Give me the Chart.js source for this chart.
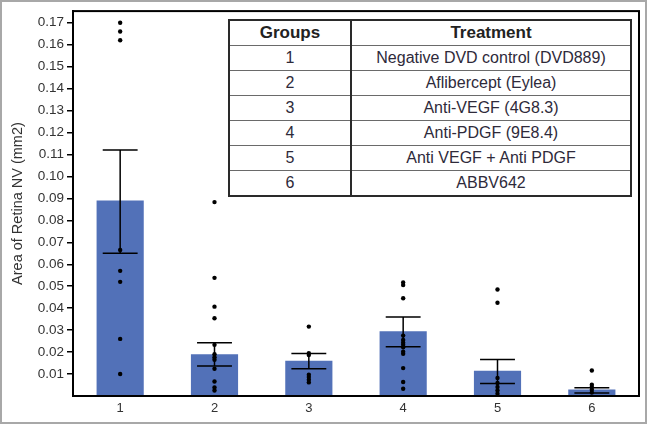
<!DOCTYPE html>
<html lang="en">
<head>
    <meta charset="UTF-8">
    <title>Area of Retina NV</title>
    <script src="https://cdn.jsdelivr.net/npm/chart.js"></script>
    <style>
        body { margin: 0; background: #fff; font-family: Arial, "Liberation Sans", sans-serif; }
        .wrap { position: relative; width: 649px; height: 426px; }
        .frame {
            position: absolute; left: 0; top: 0;
            width: 647px; height: 424px;
            box-sizing: border-box;
            border: 2px solid #a8a8a8;
            pointer-events: none;
        }
        .legend {
            position: absolute; left: 228px; top: 19px;
            width: 404px; height: 176px;
            border-collapse: collapse;
            border: 2px solid #2a2a2a;
            background: #fff;
            table-layout: fixed;
        }
        .legend td, .legend th {
            border: 1px solid #6a6a6a;
            text-align: center;
            padding: 0;
            height: 24px;
            font-size: 16px;
            color: #2e2a3a;
        }
        .legend th { font-weight: bold; font-size: 17px; color: #222; }
        .legend td:first-child, .legend th:first-child { border-right: 2px solid #2a2a2a; }
    </style>
</head>
<body>
    <div class="wrap">
        <canvas id="nvChart" width="649" height="426"></canvas>
        <table class="legend" id="legend">
            <colgroup><col style="width:122px"><col></colgroup>
            <tr><th>Groups</th><th>Treatment</th></tr>
        </table>
        <div class="frame"></div>
    </div>

    <script>
        // group labels and their treatments (the inset table)
        const groups = ['1', '2', '3', '4', '5', '6'];
        const treatments = [
            'Negative DVD control (DVD889)',
            'Aflibercept (Eylea)',
            'Anti-VEGF  (4G8.3)',
            'Anti-PDGF (9E8.4)',
            'Anti VEGF  + Anti PDGF',
            'ABBV642'
        ];

        // bar heights (mean) and error bar ends
        const meanArea = [0.089, 0.019, 0.016, 0.0295, 0.0115, 0.003];
        const errLow = [0.065, 0.0137, 0.0124, 0.0224, 0.0057, 0.0014];
        const errHigh = [0.112, 0.0242, 0.0193, 0.036, 0.0166, 0.0038];

        // individual eyes per group
        const dots1 = [0.170, 0.166, 0.162, 0.0665, 0.057, 0.052, 0.026, 0.010];
        const dots2 = [0.0883, 0.0538, 0.0407, 0.0354, 0.0233, 0.019, 0.0177, 0.0165, 0.0124, 0.0066, 0.0039, 0.0025];
        const dots3 = [0.0316, 0.0195, 0.0187, 0.0097, 0.0086, 0.0074, 0.0062];
        const dots4 = [0.0517, 0.0505, 0.0445, 0.0275, 0.0255, 0.0243, 0.0233, 0.0222, 0.0202, 0.0192, 0.0127, 0.0064, 0.0033];
        const dots5 = [0.0485, 0.0425, 0.0082, 0.0059, 0.0041, 0.0025, 0.001];
        const dots6 = [0.0116, 0.0051, 0.0041, 0.0029, 0.0016];

        const yTicks = [0.01, 0.02, 0.03, 0.04, 0.05, 0.06, 0.07, 0.08, 0.09, 0.10,
                        0.11, 0.12, 0.13, 0.14, 0.15, 0.16, 0.17];

        // fill the table
        const legend = document.getElementById('legend');
        groups.forEach((g, i) => {
            const row = legend.insertRow();
            row.insertCell().textContent = g;
            row.insertCell().textContent = treatments[i];
        });

        const allDots = [dots1, dots2, dots3, dots4, dots5, dots6];
        const dotPoints = [];
        allDots.forEach((list, i) => {
            list.forEach(v => dotPoints.push({ x: groups[i], y: v }));
        });

        // error bars, drawn right after the bars so the dots sit on top
        const errorBars = {
            id: 'errorBars',
            afterDatasetDraw(chart, args) {
                if (args.index !== 0) return;
                const ctx = chart.ctx;
                const y = chart.scales.y;
                ctx.save();
                ctx.strokeStyle = '#000';
                ctx.lineWidth = 1.5;
                args.meta.data.forEach((bar, i) => {
                    const half = bar.width * 0.37;
                    const top = y.getPixelForValue(errHigh[i]);
                    const bot = y.getPixelForValue(errLow[i]);
                    ctx.beginPath();
                    ctx.moveTo(bar.x, top);
                    ctx.lineTo(bar.x, bot);
                    ctx.moveTo(bar.x - half, top);
                    ctx.lineTo(bar.x + half, top);
                    ctx.moveTo(bar.x - half, bot);
                    ctx.lineTo(bar.x + half, bot);
                    ctx.stroke();
                });
                ctx.restore();
            }
        };

        // box round the plot area
        const plotBox = {
            id: 'plotBox',
            afterDraw(chart) {
                const a = chart.chartArea;
                const ctx = chart.ctx;
                ctx.save();
                ctx.strokeStyle = '#000';
                ctx.lineWidth = 2;
                ctx.strokeRect(a.left, a.top, a.right - a.left, a.bottom - a.top);
                ctx.restore();
            }
        };

        Chart.defaults.font.family = 'Arial, "Liberation Sans", sans-serif';
        Chart.defaults.color = '#333';

        new Chart(document.getElementById('nvChart'), {
            data: {
                labels: groups,
                datasets: [
                    {
                        type: 'bar',
                        data: meanArea,
                        backgroundColor: '#5271b8',
                        barPercentage: 0.5,
                        categoryPercentage: 1,
                        order: 2
                    },
                    {
                        type: 'line',
                        data: dotPoints,
                        showLine: false,
                        pointRadius: 2.2,
                        pointBackgroundColor: '#000',
                        pointBorderWidth: 0,
                        order: 1
                    }
                ]
            },
            options: {
                responsive: false,
                animation: false,
                events: [],
                layout: { padding: { top: 10, right: 10, left: 0, bottom: 0 } },
                plugins: { legend: { display: false }, tooltip: { enabled: false } },
                scales: {
                    x: {
                        grid: { display: false, drawTicks: false },
                        border: { display: true, color: '#000', width: 2 },
                        ticks: { padding: 5, font: { size: 13 }, color: '#333' },
                        afterFit(s) { s.height = 30; }
                    },
                    y: {
                        min: 0,
                        max: 0.1753,
                        afterBuildTicks(s) { s.ticks = yTicks.map(v => ({ value: v })); },
                        grid: { drawOnChartArea: false, drawTicks: true, tickLength: 6, color: '#000', lineWidth: 1.5 },
                        border: { display: true, color: '#000', width: 2 },
                        ticks: {
                            padding: 3,
                            font: { size: 13.5 },
                            color: '#333',
                            callback: v => v.toFixed(2)
                        },
                        title: {
                            display: true,
                            text: 'Area of Retina NV (mm2)',
                            font: { size: 14.5 },
                            color: '#333',
                            padding: { top: 9, bottom: 0 }
                        },
                        afterFit(s) { s.width = 73; }
                    }
                }
            },
            plugins: [errorBars, plotBox]
        });
    </script>
</body>
</html>
